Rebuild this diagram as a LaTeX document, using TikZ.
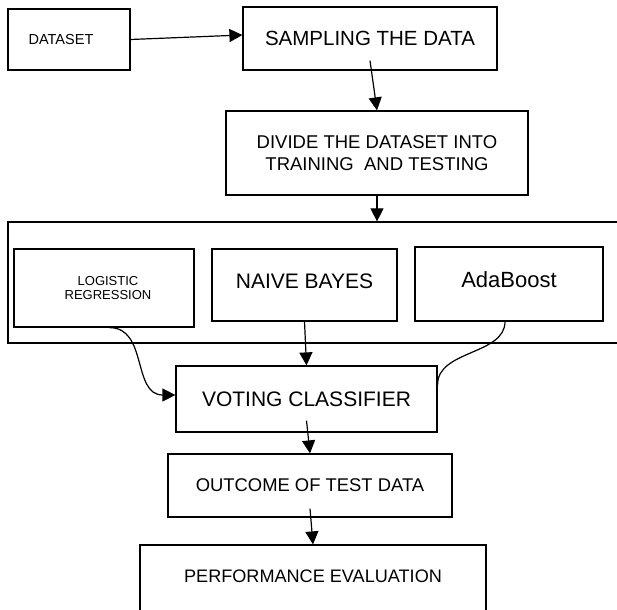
\documentclass[tikz,border=0pt]{standalone}
\usepackage{fontspec}
\setmainfont{Liberation Sans}
\usetikzlibrary{arrows.meta,calc}
\newcommand{\fsz}[1]{\fontsize{#1}{1.22\dimexpr #1\relax}\selectfont}
\tikzset{
  box/.style={draw, line width=1.2pt, rectangle, inner sep=0pt, align=center},
  arr/.style={-{Triangle[length=13pt,width=13pt]}, line width=1.2pt},
  curv/.style={line width=1.2pt},
}
\begin{document}
\begin{tikzpicture}[x=1pt,y=-1pt]
\useasboundingbox (0,0) rectangle (617,609);
\fill[white] (0,0) rectangle (617,609);
\clip (0,0) rectangle (617,609);
\node[box, minimum width=122, minimum height=61, font=\fsz{14.5pt}] (data) at (69,39.5) {DATASET\hspace*{16pt}};
\node[box, minimum width=254, minimum height=63, font=\fsz{20.5pt}] (samp) at (370,38.5) {SAMPLING THE DATA};
\node[box, minimum width=302, minimum height=84, font=\fsz{18.5pt}, text depth=0pt] (div) at (377,153) {DIVIDE THE DATASET INTO\\[-1pt]TRAINING\ \ AND TESTING};
\node[box, minimum width=632, minimum height=121] (grp) at (324,282.5) {};
\node[box, minimum width=180, minimum height=78, font=\fsz{13pt}] (logi) at (104,288) {\hspace*{8pt}LOGISTIC\\[-2pt]\hspace*{8pt}REGRESSION};
\node[box, minimum width=185, minimum height=72, font=\fsz{21pt}] (naive) at (304.5,285) {\raisebox{8pt}{NAIVE BAYES}};
\node[box, minimum width=188, minimum height=74, font=\fsz{22pt}] (ada) at (509,284) {\raisebox{9pt}{AdaBoost}};
\node[box, minimum width=261, minimum height=66, font=\fsz{21pt}] (vote) at (306.5,399) {VOTING CLASSIFIER};
\node[box, minimum width=284, minimum height=63, font=\fsz{18.4pt}] (out) at (310,485.5) {OUTCOME OF TEST DATA};
\node[box, minimum width=346, minimum height=75, font=\fsz{18.1pt}] (perf) at (313,582.5) {\raisebox{13pt}{PERFORMANCE EVALUATION}};
\draw[arr] (data.east) -- ([yshift=3.5pt]samp.west);
\draw[arr] ([yshift=10pt]samp.south) -- (div.north);
\draw[arr] (div.south) -- (div.south |- grp.north);
\draw[arr] (naive.south) -- (vote.north);
\draw[arr] ([yshift=12pt]vote.south) -- (out.north);
\draw[arr] ([yshift=9pt]out.south) -- (perf.north);
\draw[arr] ([xshift=5pt]logi.south) .. controls (148,327) and (132,395) .. ([yshift=4pt]vote.west);
\draw[curv] ([xshift=-4pt]ada.south) .. controls (505,355) and (437,350) .. ([yshift=14pt]vote.east);
\end{tikzpicture}
\end{document}
